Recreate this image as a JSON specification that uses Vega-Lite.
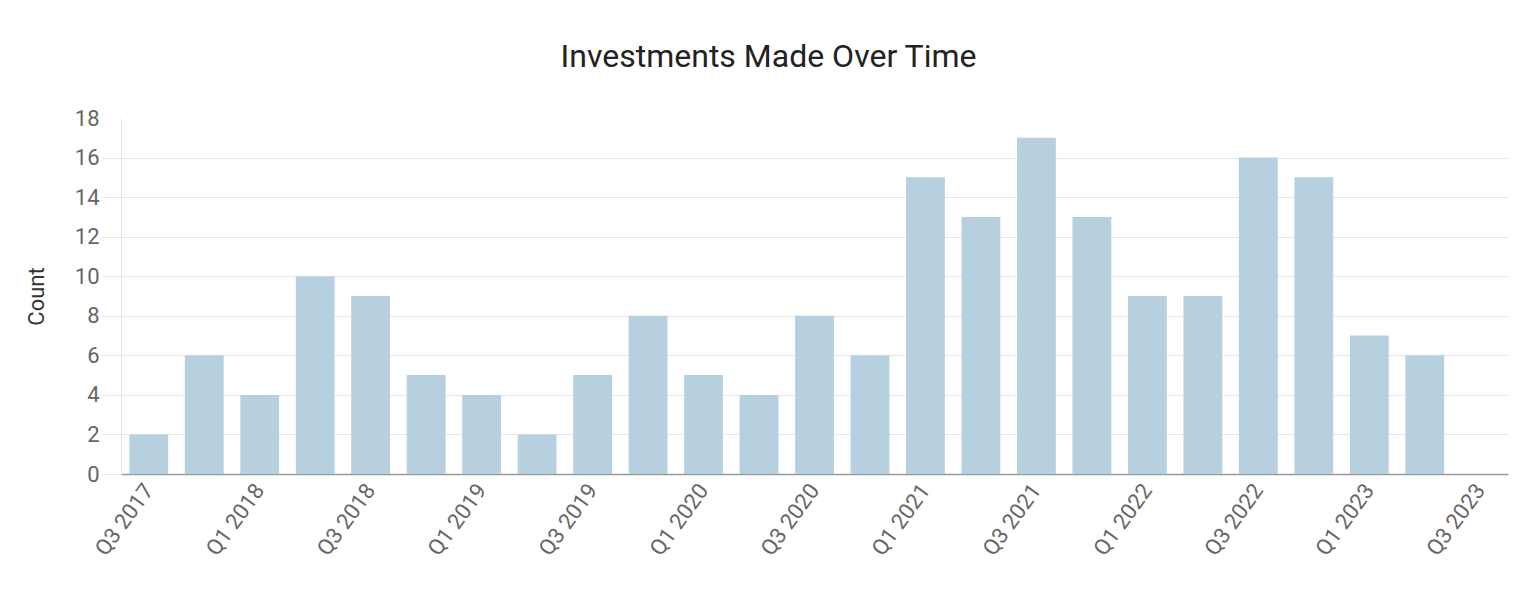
{
  "$schema": "https://vega.github.io/schema/vega-lite/v6.json",
  "autosize": {"type": "none"},
  "width": 1387,
  "height": 356,
  "padding": {"left": 121, "top": 118, "right": 28, "bottom": 135},
  "background": "white",
  "title": {
    "text": "Investments Made Over Time",
    "font": "Roboto",
    "fontSize": 32,
    "fontWeight": "normal",
    "color": "#222222",
    "anchor": "middle",
    "dx": -46,
    "offset": 33
  },
  "data": {
    "values": [
      {"quarter": "Q3 2017", "count": 2},
      {"quarter": "Q4 2017", "count": 6},
      {"quarter": "Q1 2018", "count": 4},
      {"quarter": "Q2 2018", "count": 10},
      {"quarter": "Q3 2018", "count": 9},
      {"quarter": "Q4 2018", "count": 5},
      {"quarter": "Q1 2019", "count": 4},
      {"quarter": "Q2 2019", "count": 2},
      {"quarter": "Q3 2019", "count": 5},
      {"quarter": "Q4 2019", "count": 8},
      {"quarter": "Q1 2020", "count": 5},
      {"quarter": "Q2 2020", "count": 4},
      {"quarter": "Q3 2020", "count": 8},
      {"quarter": "Q4 2020", "count": 6},
      {"quarter": "Q1 2021", "count": 15},
      {"quarter": "Q2 2021", "count": 13},
      {"quarter": "Q3 2021", "count": 17},
      {"quarter": "Q4 2021", "count": 13},
      {"quarter": "Q1 2022", "count": 9},
      {"quarter": "Q2 2022", "count": 9},
      {"quarter": "Q3 2022", "count": 16},
      {"quarter": "Q4 2022", "count": 15},
      {"quarter": "Q1 2023", "count": 7},
      {"quarter": "Q2 2023", "count": 6},
      {"quarter": "Q3 2023", "count": 0}
    ]
  },
  "mark": {"type": "bar", "color": "#b6d0e0"},
  "encoding": {
    "x": {
      "field": "quarter",
      "type": "ordinal",
      "sort": null,
      "scale": {"paddingInner": 0.3, "paddingOuter": 0.15},
      "axis": {
        "title": null,
        "values": ["Q3 2017", "Q1 2018", "Q3 2018", "Q1 2019", "Q3 2019", "Q1 2020", "Q3 2020", "Q1 2021", "Q3 2021", "Q1 2022", "Q3 2022", "Q1 2023", "Q3 2023"],
        "labelAngle": -54,
        "labelAlign": "right",
        "labelBaseline": "middle",
        "labelFont": "Roboto",
        "labelFontSize": 22,
        "labelColor": "#666666",
        "labelPadding": 12,
        "ticks": false,
        "domainColor": "#999999",
        "domainWidth": 1.5
      }
    },
    "y": {
      "field": "count",
      "type": "quantitative",
      "scale": {"domain": [0, 18]},
      "axis": {
        "title": "Count",
        "titleFont": "Roboto",
        "titleFontSize": 22,
        "titleFontWeight": "normal",
        "titleColor": "#333333",
        "titlePadding": 26,
        "values": [0, 2, 4, 6, 8, 10, 12, 14, 16, 18],
        "labelFont": "Roboto",
        "labelFontSize": 22,
        "labelColor": "#666666",
        "labelPadding": 2,
        "tickSize": 20,
        "tickColor": "#e6e6e6",
        "gridColor": "#e6e6e6",
        "gridOpacity": {"condition": {"test": "datum.value == 18", "value": 0}, "value": 1},
        "tickOpacity": {"condition": {"test": "datum.value == 18", "value": 0}, "value": 1},
        "domainColor": "#e6e6e6"
      }
    }
  },
  "config": {
    "view": {"stroke": null},
    "font": "Roboto"
  }
}
